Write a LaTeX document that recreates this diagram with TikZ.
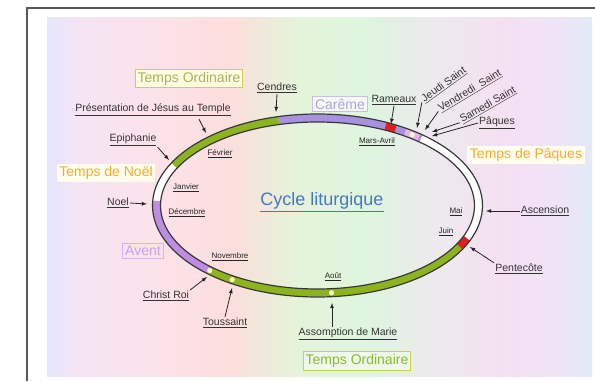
\documentclass[tikz,border=0pt]{standalone}
\usepackage{fontspec}
\setmainfont{Liberation Sans}
\usetikzlibrary{arrows,positioning}
\definecolor{fondA}{RGB}{230,230,252}
\definecolor{fondB}{RGB}{244,228,246}
\definecolor{fondC}{RGB}{252,226,234}
\definecolor{fondD}{RGB}{252,222,220}
\definecolor{fondE}{RGB}{228,244,218}
\definecolor{fondF}{RGB}{222,245,222}
\definecolor{fondG}{RGB}{236,234,238}
\definecolor{fondH}{RGB}{245,224,242}
\definecolor{fondI}{RGB}{238,228,246}
\definecolor{fondJ}{RGB}{226,234,248}
\definecolor{ordinaire}{RGB}{140,180,30}
\definecolor{careme}{RGB}{168,145,222}
\definecolor{avent}{RGB}{190,140,225}
\definecolor{rouge}{RGB}{225,30,30}
\definecolor{rose}{RGB}{232,180,232}
\definecolor{cycle}{RGB}{70,120,195}
\definecolor{orange}{RGB}{245,170,50}
\definecolor{ordtxtA}{RGB}{170,175,100}
\definecolor{ordtxtB}{RGB}{140,185,45}
\definecolor{ordbord}{RGB}{205,205,90}
\definecolor{caremetxt}{RGB}{170,170,215}
\definecolor{aventtxt}{RGB}{200,160,240}
\pgfdeclarehorizontalshading{fondcycle}{100bp}{color(0bp)=(fondA); color(25bp)=(fondA); color(27.6bp)=(fondB); color(34.4bp)=(fondC); color(41.8bp)=(fondD); color(48.2bp)=(fondE); color(54.6bp)=(fondF); color(60.1bp)=(fondG); color(66.6bp)=(fondH); color(72.1bp)=(fondI); color(75bp)=(fondJ); color(100bp)=(fondJ)}
\tikzset{
  lbl/.style={font=\fontsize{10.5}{12}\selectfont, text=black!80, inner sep=1pt},
  mois/.style={font=\fontsize{8}{9}\selectfont, text=black!85, inner sep=1pt},
  temps/.style={font=\fontsize{14}{16}\selectfont, inner sep=2.5pt},
  anneau/.style={line width=7.5pt},
  bord/.style={line width=1.2pt, draw=black!78},
  fleche/.style={->, thick, black!85},
}

\begin{document}
\begin{tikzpicture}[x=1pt, y=1pt, >=latex]
\useasboundingbox (0,0) rectangle (595,381);
\draw[line width=1.5pt, black!65] (27,0) -- (27,373) -- (595,373);
\shade[shading=fondcycle] (47,5) rectangle (592,363);
\coordinate (c) at (317.5,175.5);
% anneau des temps
\foreach \ta/\tb/\col in {50/104/careme, 104/153/ordinaire, 153/177/white, 177/228/avent, 228/336/ordinaire, 336/410/white, 61/65/rouge, 51/57/rose, 332/338/rouge}
  \draw[anneau, \col] (c) ++(\ta:161 and 87.5) arc[start angle=\ta, end angle=\tb, x radius=161, y radius=87.5];
\foreach \ta in {54, 275, 238, 228}
  \fill[yellow!25] (c) ++(\ta:161 and 87.5) circle[radius=2.6];
\draw[bord] (c) ellipse[x radius=165, y radius=91.5];
\draw[bord] (c) ellipse[x radius=157, y radius=83.5];

% temps liturgiques
\node[temps, text=ordtxtA, draw=ordbord, fill=yellow!12, line width=1pt] (tordA) at (189,302.5) {Temps Ordinaire};
\node[temps, text=ordtxtB, draw=ordbord, fill=yellow!15!green!8, line width=1pt] (tordB) at (357,20) {Temps Ordinaire};
\node[temps, text=orange, fill=yellow!8] (tnoel) at (106,208) {Temps de Noël};
\node[temps, text=orange, fill=yellow!6] (tpaques) at (526,226) {Temps de Pâques};
\node[temps, text=caremetxt, draw=caremetxt!70, fill=white!60!fondG, line width=1pt] (careme) at (340,277) {Carême};
\node[temps, text=aventtxt, draw=aventtxt!80, line width=1pt] (avent) at (143,130) {Avent};
\node[font=\fontsize{18}{20}\selectfont, text=cycle] (cycle) at (322,179) {\underline{Cycle liturgique}};

% mois
\node[mois] (fevrier) at (220,227) {\underline{Février}};
\node[mois] (janvier) at (186,193) {\underline{Janvier}};
\node[mois] (decembre) at (187,168) {\underline{Décembre}};
\node[mois] (novembre) at (230,124) {\underline{Novembre}};
\node[mois] (marsavril) at (377,239) {\underline{Mars-Avril}};
\node[mois] (mai) at (456,169) {\underline{Mai}};
\node[mois] (juin) at (446,149) {\underline{Juin}};
\node[mois] (aout) at (333,104) {\underline{Août}};

% fetes
\node[lbl] (cendres) at (277,293) {\underline{Cendres}};
\node[lbl] (presentation) at (153,271) {\underline{Présentation de Jésus au Temple}};
\node[lbl] (epiphanie) at (133,241) {\underline{Epiphanie}};
\node[lbl] (noel) at (118,178) {\underline{Noel}};
\node[lbl] (christroi) at (166,85) {\underline{Christ Roi}};
\node[lbl] (toussaint) at (225,58) {\underline{Toussaint}};
\node[lbl] (rameaux) at (394,281) {\underline{Rameaux}};
\node[lbl, inner sep=0pt, rotate=36] (jeudi) at (444,296) {\underline{Jeudi Saint}};
\node[lbl, inner sep=0pt, rotate=31] (vendredi) at (470,290) {\underline{Vendredi\ \ Saint}};
\node[lbl, inner sep=0pt, rotate=30] (samedi) at (488,276) {\underline{Samedi Saint}};
\node[lbl] (paques) at (497,258) {\underline{Pâques}};
\node[lbl] (ascension) at (545,170) {\underline{Ascension}};
\node[lbl] (pentecote) at (519,112) {\underline{Pentecôte}};
\node[lbl] (assomption) at (348,47) {\underline{Assomption de Marie}};

% pointes des fleches sur l'anneau
\coordinate (pCendres) at (276,269);
\coordinate (pPres) at (206,248);
\coordinate (pEpi) at (169,221);
\coordinate (pNoel) at (147,177);
\coordinate (pChrist) at (207,104);
\coordinate (pTous) at (232,93);
\coordinate (pRam) at (391,257);
\coordinate (pJeudi) at (417,253);
\coordinate (pVend) at (425,251);
\coordinate (pSam) at (432,249);
\coordinate (pPaques) at (432,245);
\coordinate (pAsc) at (486,170);
\coordinate (pPent) at (470,134);
\coordinate (pAss) at (332,78);

\draw[fleche] (cendres.south) -- (pCendres);
\draw[fleche] ([xshift=46pt,yshift=-2pt]presentation.south) -- (pPres);
\draw[fleche] (epiphanie.south east) -- (pEpi);
\draw[fleche] (noel.east) -- (pNoel);
\draw[fleche] (christroi.north east) -- (pChrist);
\draw[fleche] (toussaint.north) -- (pTous);
\draw[fleche] (rameaux.south) -- (pRam);
\draw[fleche] ([xshift=-1pt,yshift=-2pt]jeudi.west) -- (pJeudi);
\draw[fleche] ([xshift=-1pt,yshift=-2pt]vendredi.west) -- (pVend);
\draw[fleche] ([xshift=-1pt,yshift=-2pt]samedi.west) -- (pSam);
\draw[fleche] (paques.west) -- (pPaques);
\draw[fleche] (ascension.west) -- (pAsc);
\draw[fleche] (pentecote.north west) -- (pPent);
\draw[fleche] ([xshift=-16pt]assomption.north) -- (pAss);
\end{tikzpicture}
\end{document}
